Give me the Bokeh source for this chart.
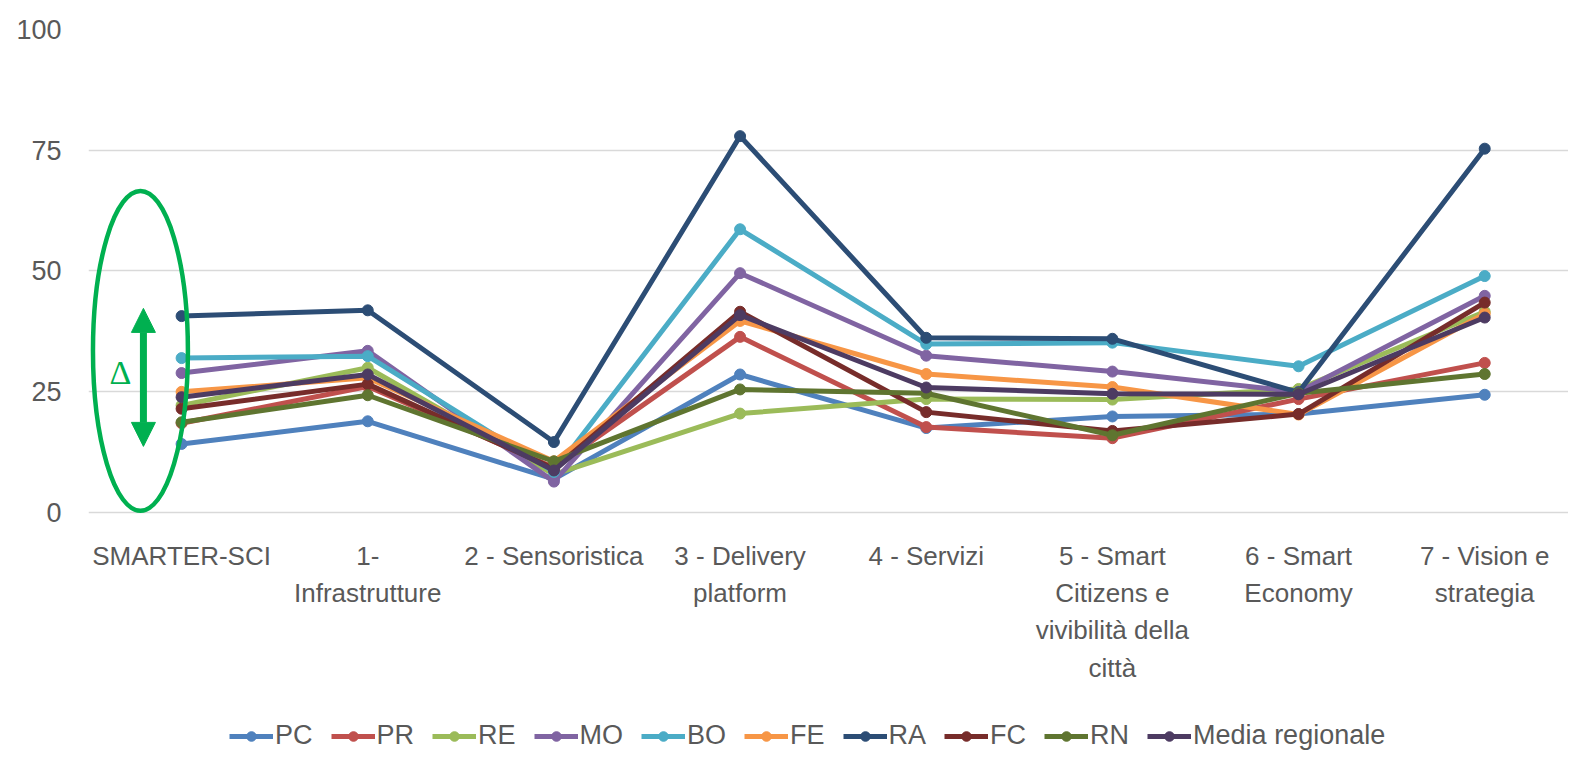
from bokeh.plotting import figure
from bokeh.models import (Legend, LegendItem, FixedTicker, Label, Arrow, NormalHead)
from bokeh.core.properties import value
from bokeh.embed import file_html
from bokeh.resources import INLINE

# ---- data ----
categories = ["SMARTER-SCI", "1- Infrastrutture", "2 - Sensoristica", "3 - Delivery platform",
              "4 - Servizi", "5 - Smart Citizens e vivibilità della città",
              "6 - Smart Economy", "7 - Vision e strategia"]
tick_labels = ["SMARTER-SCI", "1-\nInfrastrutture", "2 - Sensoristica", "3 - Delivery\nplatform",
               "4 - Servizi", "5 - Smart\nCitizens e\nvivibilità della\ncittà",
               "6 - Smart\nEconomy", "7 - Vision e\nstrategia"]
y_ticks = [0, 25, 50, 75, 100]

PC = [14.1, 18.8, 6.8, 28.5, 17.4, 19.8, 20.3, 24.3]
PR = [18.4, 26.0, 9.2, 36.3, 17.6, 15.3, 23.4, 30.9]
RE = [22.1, 29.9, 7.8, 20.4, 23.4, 23.3, 25.5, 41.5]
MO = [28.8, 33.4, 6.3, 49.5, 32.4, 29.1, 24.9, 44.8]
BO = [31.9, 32.3, 8.3, 58.6, 34.8, 35.1, 30.2, 48.9]
FE = [24.9, 27.8, 10.5, 39.6, 28.6, 25.9, 20.2, 41.1]
RA = [40.6, 41.8, 14.5, 77.9, 36.1, 35.9, 24.8, 75.3]
FC = [21.4, 26.5, 9.0, 41.5, 20.7, 16.8, 20.3, 43.4]
RN = [18.6, 24.2, 10.5, 25.4, 24.6, 15.9, 24.6, 28.6]
MEDIA = [23.8, 28.5, 8.6, 40.8, 25.8, 24.5, 24.4, 40.3]

series_names = ["PC", "PR", "RE", "MO", "BO", "FE", "RA", "FC", "RN", "Media regionale"]
series_values = [PC, PR, RE, MO, BO, FE, RA, FC, RN, MEDIA]
series_colors = ["#4F81BD", "#C0504D", "#9BBB59", "#8064A2", "#4BACC6", "#F79646",
                 "#2C4D75", "#772C2A", "#5F7530", "#4D3B62"]

FONT = "Liberation Sans"
TXT = "#595959"
GREEN = "#00B050"

x = list(range(len(categories)))

# frame extends below the 0 line to hold category labels and legend
FRAME_H = 727
PX_PER_UNIT = 482.5 / 100.0
y_bottom = -(FRAME_H - 482.5) / PX_PER_UNIT

p = figure(frame_width=1480, frame_height=FRAME_H, x_range=(-0.5, 7.45),
           y_range=(y_bottom, 100),
           min_border_left=88, min_border_right=0, min_border_top=29, min_border_bottom=0,
           output_backend="svg", toolbar_location=None)
p.outline_line_color = None
p.background_fill_color = "white"
p.border_fill_color = "white"

p.xgrid.grid_line_color = None
p.xaxis.visible = False
p.ygrid.grid_line_color = "#D9D9D9"
p.ygrid.grid_line_width = 1.5
p.ygrid.ticker = FixedTicker(ticks=y_ticks)

p.yaxis.ticker = FixedTicker(ticks=y_ticks)
p.yaxis.axis_line_color = None
p.yaxis.major_tick_line_color = None
p.yaxis.minor_tick_line_color = None
p.yaxis.major_label_text_font = FONT
p.yaxis.major_label_text_font_size = "27px"
p.yaxis.major_label_text_color = TXT
p.yaxis.major_label_standoff = 21

# category labels under the 0 line
p.text(x=x, y=[-29.0 / PX_PER_UNIT] * len(x), text=tick_labels,
       text_font=value(FONT), text_font_size="26px", text_color=TXT,
       text_align="center", text_baseline="top", text_line_height=1.24)

items = []
for name, vals, col in zip(series_names, series_values, series_colors):
    lr = p.line(x, vals, line_color=col, line_width=5)
    sr = p.scatter(x, vals, size=11, fill_color=col, line_color=col)
    items.append(LegendItem(label=name, renderers=[lr, sr]))

# annotation: ellipse, double arrow, delta
p.ellipse(x=[-0.221], y=[33.4], width=0.51, height=66.3, fill_alpha=0,
          line_color=GREEN, line_width=4.5)
arr = Arrow(x_start=-0.205, y_start=13.6, x_end=-0.205, y_end=42.2,
            line_color=GREEN, line_width=7,
            start=NormalHead(size=24, fill_color=GREEN, line_color=GREEN, line_width=1),
            end=NormalHead(size=24, fill_color=GREEN, line_color=GREEN, line_width=1))
p.add_layout(arr)
p.add_layout(Label(x=-0.328, y=29.0, text="Δ", text_font="Liberation Serif",
                   text_font_size="34px", text_color=GREEN, text_align="center",
                   text_baseline="middle"))

legend = Legend(items=items, orientation="horizontal", location=(141, 5),
                label_text_font=FONT, label_text_font_size="27px", label_text_color=TXT,
                glyph_width=44, glyph_height=24, spacing=18, label_standoff=2,
                border_line_alpha=0, background_fill_alpha=0, padding=0, margin=0)
p.add_layout(legend, "center")

open("out.html", "w").write(file_html(p, INLINE))
